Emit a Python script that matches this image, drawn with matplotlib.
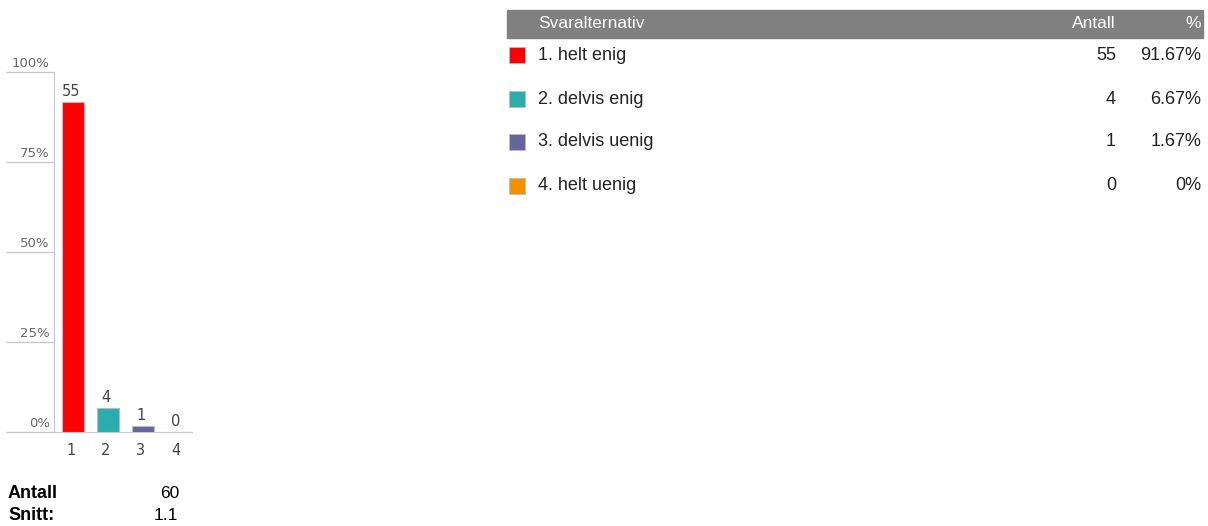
import matplotlib
matplotlib.use("Agg")
import matplotlib.pyplot as plt
from matplotlib.patches import Rectangle

# Data
categories = ["1", "2", "3", "4"]
labels = ["1. helt enig", "2. delvis enig", "3. delvis uenig", "4. helt uenig"]
counts = [55, 4, 1, 0]
percents = [91.67, 6.67, 1.67, 0.0]
percent_labels = ["91.67%", "6.67%", "1.67%", "0%"]
colors = ["#ff0000", "#2aadad", "#65659e", "#f39200"]
yticks = [0, 25, 50, 75, 100]
ytick_labels = ["0%", "25%", "50%", "75%", "100%"]
total = 60
mean = "1.1"
header = ["Svaralternativ", "Antall", "%"]

W, H = 1208, 526
fig = plt.figure(figsize=(W / 100, H / 100), dpi=100)
plt.rcParams['font.family'] = ['Liberation Sans', 'DejaVu Sans']

def fx(x):
    return x / W

def fy(y):
    return 1 - y / H

# Bar chart axes
ax = fig.add_axes([fx(54), fy(432), fx(192) - fx(54), (432 - 72) / H])
xpos = list(range(1, len(categories) + 1))
ax.bar(xpos, percents, width=0.63, color=colors, edgecolor="#bbbbbb", linewidth=0.8, zorder=3)
ax.set_ylim(0, 100)
ax.set_xlim(0.457, 4.4)
for s in ["top", "right"]:
    ax.spines[s].set_visible(False)
ax.spines["left"].set_color("#c8c8c8")
ax.spines["bottom"].set_color("#c8c8c8")
ax.set_yticks(yticks)
ax.set_yticklabels([])
ax.tick_params(axis="y", length=48 * 0.72, width=1, color="#c8c8c8", direction="out")
ax.set_xticks([x - 0.06 for x in xpos])
ax.set_xticklabels(categories, fontsize=10.5, color="#444444", family="DejaVu Sans")
ax.tick_params(axis="x", length=0, pad=8)
for v, lab in zip(yticks, ytick_labels):
    ax.annotate(lab, xy=(0, v), xycoords=("axes fraction", "data"),
                xytext=(-3, 1.5), textcoords="offset points",
                ha="right", va="bottom", fontsize=9.5, color="#666666", family="DejaVu Sans")
for x, v, c in zip(xpos, percents, counts):
    ax.annotate(str(c), xy=(x - 0.06, v), xytext=(0, 2), textcoords="offset points",
                ha="center", va="bottom", fontsize=10.5, color="#444444", family="DejaVu Sans")

# Summary below chart
fig.text(fx(8), fy(494), "Antall", fontsize=13, fontweight="bold", va="center", ha="left")
fig.text(fx(179), fy(494), str(total), fontsize=12.5, va="center", ha="right")
fig.text(fx(8), fy(516), "Snitt:", fontsize=13, fontweight="bold", va="center", ha="left")
fig.text(fx(178), fy(516), mean, fontsize=12.5, va="center", ha="right")

# Table header
fig.patches.append(Rectangle((fx(507), fy(38)), fx(1203) - fx(507), (38 - 10) / H,
                             transform=fig.transFigure, color="#808080", zorder=0))
fig.text(fx(538), fy(24), header[0], color="white", fontsize=12.5, va="center", ha="left")
fig.text(fx(1116), fy(24), header[1], color="white", fontsize=12.5, va="center", ha="right")
fig.text(fx(1201), fy(24), header[2], color="white", fontsize=12.5, va="center", ha="right")

row_y = [55, 99, 142, 186]
for y, lab, c, col, p in zip(row_y, labels, counts, colors, percent_labels):
    fig.patches.append(Rectangle((fx(509), fy(y + 8)), fx(525) - fx(509), 16 / H,
                                 transform=fig.transFigure, facecolor=col,
                                 edgecolor="#bbbbbb", linewidth=0.6))
    fig.text(fx(538), fy(y), lab, color="#222222", fontsize=13, va="center", ha="left")
    fig.text(fx(1116), fy(y), str(c), color="#222222", fontsize=13, va="center", ha="right")
    fig.text(fx(1201), fy(y), p, color="#222222", fontsize=13, va="center", ha="right")

fig.savefig("out.png", dpi=100)
